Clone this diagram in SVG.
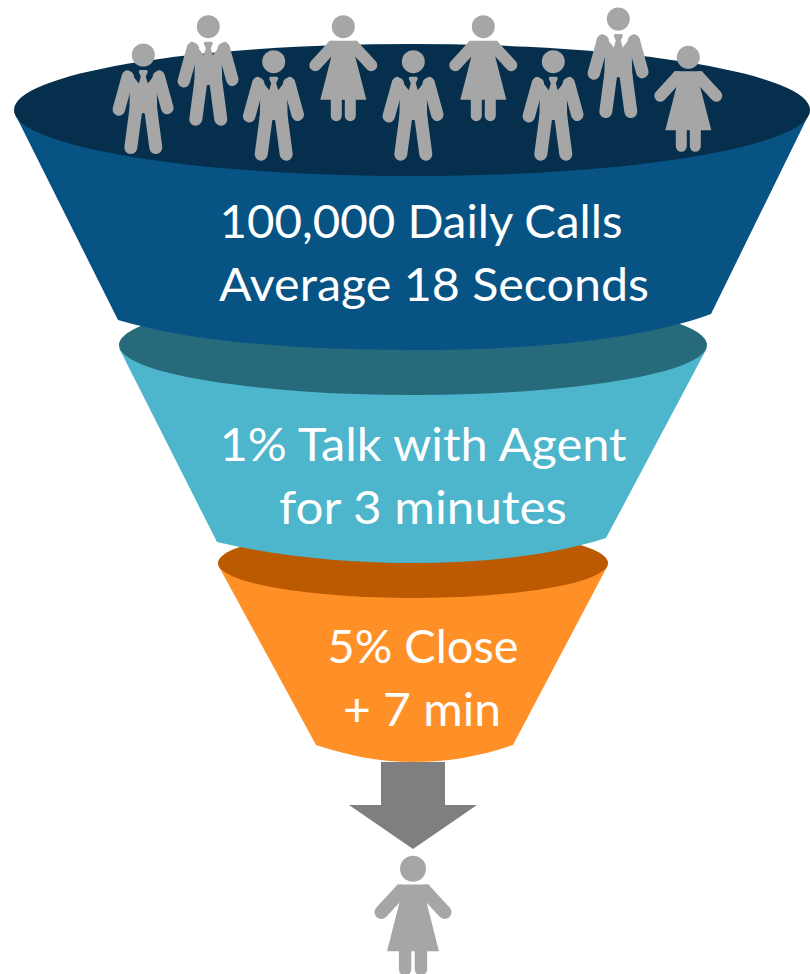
<svg xmlns="http://www.w3.org/2000/svg" width="810" height="974" viewBox="0 0 810 974">
<style>
.p{fill:#a6a6a6}
.l{stroke:#a6a6a6;stroke-linecap:round;fill:none}
.t{font-family:"Lato","Open Sans",sans-serif;font-size:46px;fill:#fff;text-anchor:middle}
</style>
<defs>
<g id="man">
<circle class="p" r="11.5"/>
<path class="l" stroke-width="12.5" d="M-15.500,22L-24.500,54.500M15.500,22L24,53"/>
<path class="l" stroke-width="13" d="M-7.500,55L-12.500,92.500M7.500,55L12.500,92.500"/>
<path class="p" d="M-21,19Q-18,14-14.500,15.500L-4.500,28.500L-2.500,21.500L-4.500,17Q-4.500,15-3,15L3,15Q4.500,15,4.500,17L2.500,21.500L4.500,28.500L14.500,15.500Q18,14,21,19L21,25L13.500,35L14,60L6,60L0,58L-6,60L-14,60L-13.500,35L-21,25Z"/>
</g>
<g id="woman">
<circle class="p" r="11.500"/>
<path class="l" stroke-width="12" d="M-11,20L-28,38.500M11,20L28,38.500"/>
<path class="l" stroke-width="11" d="M-7,70L-7,89M7,70L7,89"/>
<path class="p" d="M-14,14L14,14L17,19L12,30L23,73L-23,73L-12,30L-17,19Z"/>
</g>
</defs>
<g id="stage-3">
<path fill="#ff9027" d="M218,565L316,745C350,756,380,762,413,762C450,762,480,756,513,745L608,565Z"/>
<ellipse cx="413" cy="563" rx="195" ry="35" fill="#bb5a00"/>
<text class="t" x="423" y="663" textLength="191" lengthAdjust="spacingAndGlyphs">5% Close</text>
<text class="t" x="422" y="726" textLength="158" lengthAdjust="spacingAndGlyphs">+ 7 min</text>
</g>
<g id="stage-2">
<path fill="#4db5cc" d="M119,348L217,542C280,557,350,563,413,563C480,563,550,556,606,538L707,348Z"/>
<ellipse cx="413" cy="345" rx="294" ry="50" fill="#276a7b"/>
<text class="t" x="423" y="461" textLength="407" lengthAdjust="spacingAndGlyphs">1% Talk with Agent</text>
<text class="t" x="423" y="524" textLength="288" lengthAdjust="spacingAndGlyphs">for 3 minutes</text>
</g>
<g id="stage-1">
<path fill="#075384" d="M14,112L118,320C190,342,300,350,413,350C530,350,640,340,711,314L810,112Z"/>
<ellipse cx="412" cy="110" rx="398" ry="66" fill="#052f4c"/>
<text class="t" x="421" y="238" textLength="403" lengthAdjust="spacingAndGlyphs">100,000 Daily Calls</text>
<text class="t" x="434" y="301" textLength="430" lengthAdjust="spacingAndGlyphs">Average 18 Seconds</text>
</g>
<g id="arrow"><path fill="#7f7f7f" d="M381,762L445,762L445,805L477,805L413,849L349,805L381,805Z"/></g>
<g id="person-1"><use href="#man" x="143.300" y="55"/></g>
<g id="person-2"><use href="#man" x="208.300" y="26.700"/></g>
<g id="person-3"><use href="#man" x="273.700" y="61.700"/></g>
<g id="person-4"><use href="#woman" x="343.300" y="26.700"/></g>
<g id="person-5"><use href="#man" x="413.300" y="61.700"/></g>
<g id="person-6"><use href="#woman" x="483.300" y="26.700"/></g>
<g id="person-7"><use href="#man" x="553.300" y="61.700"/></g>
<g id="person-8"><use href="#man" x="618.300" y="19"/></g>
<g id="person-9"><use href="#woman" x="688.300" y="57.300"/></g>
<g id="person-10"><use href="#woman" transform="translate(413,868.700) scale(1.13)"/></g>
</svg>
